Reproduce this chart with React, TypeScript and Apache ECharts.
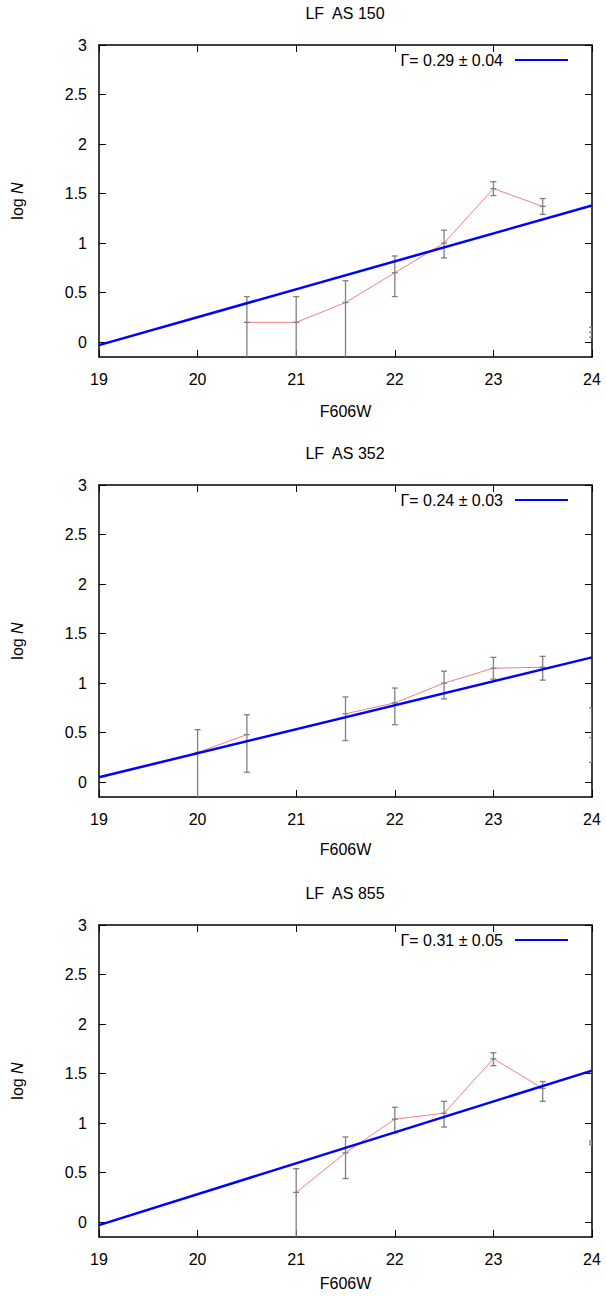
import React, { useEffect, useRef } from "react";
import * as echarts from "echarts";

const titles = ["LF  AS 150", "LF  AS 352", "LF  AS 855"];
const gammaLabels = ["Γ= 0.29 ± 0.04", "Γ= 0.24 ± 0.03", "Γ= 0.31 ± 0.05"];
const yTicks = [0, 0.5, 1, 1.5, 2, 2.5, 3];

// [mag, logN, low, high]
const lf150 = [[20.5, 0.2, -0.3, 0.46], [21, 0.2, -0.3, 0.46], [21.5, 0.4, -0.3, 0.62], [22, 0.7, 0.46, 0.87], [22.5, 1.0, 0.85, 1.13], [23, 1.55, 1.48, 1.62], [23.5, 1.37, 1.29, 1.45]];
const lf352 = [[20, 0.3, -0.3, 0.53], [20.5, 0.48, 0.1, 0.68], [21.5, 0.69, 0.42, 0.86], [22, 0.8, 0.58, 0.95], [22.5, 1.0, 0.84, 1.12], [23, 1.15, 1.04, 1.26], [23.5, 1.16, 1.03, 1.27]];
const lf855 = [[21, 0.3, -0.3, 0.54], [21.5, 0.7, 0.44, 0.86], [22, 1.04, 0.9, 1.16], [22.5, 1.1, 0.96, 1.22], [23, 1.65, 1.58, 1.71], [23.5, 1.35, 1.22, 1.42]];
const line150 = [[20.5, 0.2], [21, 0.2], [21.5, 0.4], [22, 0.7], [22.5, 1.0], [23, 1.55], [23.5, 1.37]];
const line352 = [[20, 0.3], [20.5, 0.48], [21, null], [21.5, 0.69], [22, 0.8], [22.5, 1.0], [23, 1.15], [23.5, 1.16]];
const line855 = [[21, 0.3], [21.5, 0.7], [22, 1.04], [22.5, 1.1], [23, 1.65], [23.5, 1.35]];
const edgeBars = [[24, 0.1, 0.05, 0.15], [24, 0.45, 0.2, 0.75], [24, 0.8, 0.78, 0.82]];
const fits = [[[19, -0.03], [24, 1.38]], [[19, 0.05], [24, 1.26]], [[19, -0.03], [24, 1.53]]];

const errs = [lf150, lf352, lf855];
const lines = [line150, line352, line855];

export default function App() {
  const ref = useRef<HTMLDivElement>(null);
  useEffect(() => {
    document.body.style.margin = "0";
    const chart = echarts.init(ref.current!, null, { renderer: "svg" });
    const tops = [45, 485, 925];
    const nameGaps = [46, 44, 38];
    const H = 312, L = 99, W = 493;
    const font = "Liberation Sans, Arial, sans-serif";
    const grid: any[] = [], xAxis: any[] = [], yAxis: any[] = [], series: any[] = [], graphic: any[] = [];
    tops.forEach((top, i) => {
      grid.push({ left: L, top, width: W, height: H, outerBoundsMode: "none", containLabel: false });
      const axLine = { show: true, onZero: false, lineStyle: { color: "#000", width: 1.5 } };
      const tick = { inside: true, length: 7, lineStyle: { color: "#000" } };
      xAxis.push({
        type: "value", gridIndex: i, min: 19, max: 24, interval: 1, position: "bottom",
        axisLine: axLine, axisTick: tick,
        axisLabel: { color: "#000", fontSize: 16, fontFamily: font, margin: 14 },
        splitLine: { show: false },
        name: "F606W", nameLocation: "middle", nameGap: nameGaps[i],
        nameTextStyle: { color: "#000", fontSize: 16, fontFamily: font },
      });
      xAxis.push({
        type: "value", gridIndex: i, min: 19, max: 24, interval: 1, position: "top",
        axisLine: axLine, axisTick: tick, axisLabel: { show: false }, splitLine: { show: false },
      });
      const yCommon = {
        type: "value", gridIndex: i, min: -0.15, max: 3,
        axisLine: axLine, splitLine: { show: false },
        axisTick: { ...tick, customValues: yTicks },
      };
      yAxis.push({
        ...yCommon, position: "left",
        axisLabel: { color: "#000", fontSize: 16, fontFamily: font, margin: 12, customValues: yTicks, formatter: (v: number) => String(v) },
        name: "{a|log }{b|N}", nameLocation: "middle", nameGap: 74, nameRotate: 90,
        nameTextStyle: { rich: { a: { fontSize: 16, fontFamily: font, color: "#000" }, b: { fontSize: 16, fontFamily: font, fontStyle: "italic", color: "#000" } } },
      });
      yAxis.push({ ...yCommon, position: "right", axisLabel: { show: false } });
      graphic.push({ type: "text", x: 345, y: top - 32, style: { text: titles[i], font: `16px ${font}`, fill: "#000", align: "center", verticalAlign: "middle" } });
      graphic.push({ type: "text", x: 503, y: top + 15, style: { text: gammaLabels[i], font: `16px ${font}`, fill: "#000", align: "right", verticalAlign: "middle" } });
      graphic.push({ type: "line", shape: { x1: 515, y1: top + 15, x2: 568, y2: top + 15 }, style: { stroke: "#0000ff", lineWidth: 2 } });
      series.push({ type: "line", xAxisIndex: 2 * i, yAxisIndex: 2 * i, data: lines[i], showSymbol: false, connectNulls: false, lineStyle: { color: "#f08080", width: 1 }, z: 3 });
      const bars = [...errs[i], edgeBars[i]];
      series.push({
        type: "custom", xAxisIndex: 2 * i, yAxisIndex: 2 * i, data: bars, clip: true, z: 4,
        renderItem: (_p: any, api: any) => {
          const x = api.value(0);
          const a = api.coord([x, api.value(2)]);
          const b = api.coord([x, api.value(3)]);
          const m = api.coord([x, api.value(1)]);
          const st = { stroke: "#808080", lineWidth: 1.3 };
          return {
            type: "group", children: [
              { type: "line", shape: { x1: a[0], y1: a[1], x2: b[0], y2: b[1] }, style: st },
              { type: "line", shape: { x1: a[0] - 3, y1: a[1], x2: a[0] + 3, y2: a[1] }, style: st },
              { type: "line", shape: { x1: b[0] - 3, y1: b[1], x2: b[0] + 3, y2: b[1] }, style: st },
              { type: "line", shape: { x1: m[0] - 3, y1: m[1], x2: m[0] + 3, y2: m[1] }, style: st },
            ],
          };
        },
      });
      series.push({ type: "line", xAxisIndex: 2 * i, yAxisIndex: 2 * i, data: fits[i], showSymbol: false, lineStyle: { color: "#0000ff", width: 2.5 }, z: 5 });
    });
    chart.setOption({ animation: false, backgroundColor: "#fff", grid, xAxis, yAxis, series, graphic });
    return () => chart.dispose();
  }, []);
  return <div ref={ref} style={{ width: 606, height: 1297 }} />;
}
